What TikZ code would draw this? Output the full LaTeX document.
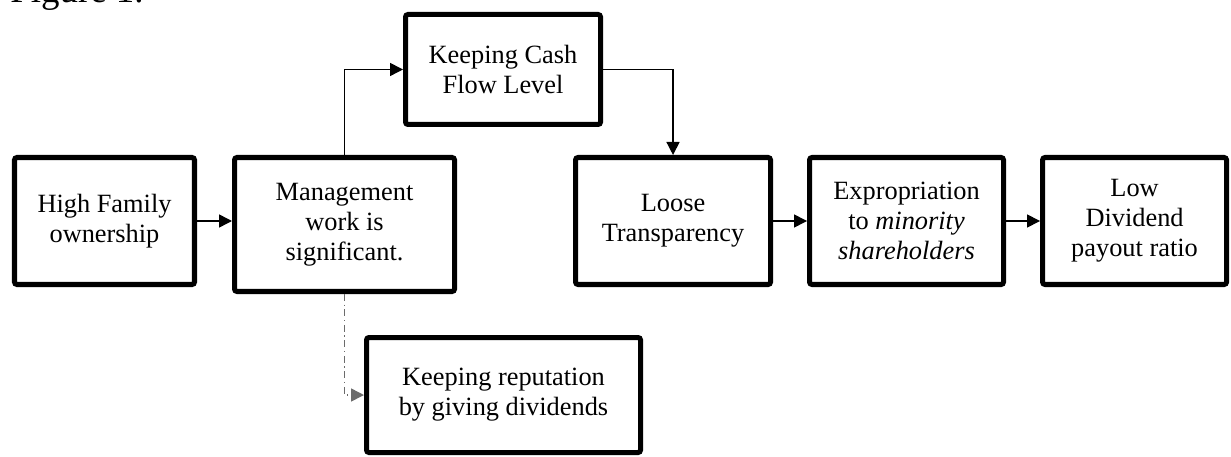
\documentclass[tikz,border=0pt]{standalone}
\usepackage{fontspec}
\setmainfont{Liberation Serif}
\usepackage{tikz}
\usetikzlibrary{arrows.meta,positioning}
\definecolor{ink}{HTML}{000000}
\definecolor{muted}{HTML}{6B6B6B}

\begin{document}
\begin{tikzpicture}[
  x=0.2mm,y=-0.2mm,
  box/.style={draw=ink,line width=2.85pt,rounded corners=0.5mm,minimum height=25.4mm,align=center,inner sep=1mm,font=\fontsize{15pt}{17pt}\selectfont},
  arrow/.style={-{Triangle[length=7.4pt,width=7.4pt]},line width=0.85pt,draw=ink},
  dasharrow/.style={-{Triangle[length=7.4pt,width=7.4pt]},line width=0.85pt,draw=muted,dash pattern=on 4pt off 2pt on 0.8pt off 2pt}
]
  \useasboundingbox (0,0) rectangle (1231,457);
  \clip (0,0) rectangle (1231,457);
  \node[anchor=base west,inner sep=0pt,font=\fontsize{21pt}{24pt}\selectfont] (fig) at (10,3) {Figure 1.};

  \node[box,minimum width=36mm] (fam) at (104.5,221) {High Family\\ownership};
  \node[box,minimum width=44mm,minimum height=26.8mm,right=7mm of fam.north east,anchor=north west] (mgmt) {Management\\work is\\significant.};
  \node[box,minimum width=39mm,minimum height=22mm,above right=5.6mm and 34.2mm of mgmt.north west,anchor=south west] (cash) {Keeping Cash\\Flow Level};
  \node[box,minimum width=39mm,right=23.2mm of mgmt.north east,anchor=north west] (loose) {Loose\\Transparency};
  \node[box,minimum width=38.8mm,right=6.8mm of loose] (expr) {Expropriation\\to \textit{minority}\\\textit{shareholders}};
  \node[box,minimum width=36.8mm,right=6.8mm of expr] (low) {Low\\Dividend\\payout ratio};
  \node[box,minimum width=54.8mm,minimum height=23mm,below right=8.2mm and 26.4mm of mgmt.south west,anchor=north west] (rep) {Keeping reputation\\by giving dividends};

  \draw[arrow] (fam.east) -- (fam.east -| mgmt.west);
  \draw[arrow] (mgmt.north) |- (cash.west);
  \draw[arrow] (cash.east) -| (loose.north);
  \draw[arrow] (loose) -- (expr);
  \draw[arrow] (expr) -- (low);
  \draw[dasharrow] (mgmt.south) |- (rep.west);
\end{tikzpicture}
\end{document}
